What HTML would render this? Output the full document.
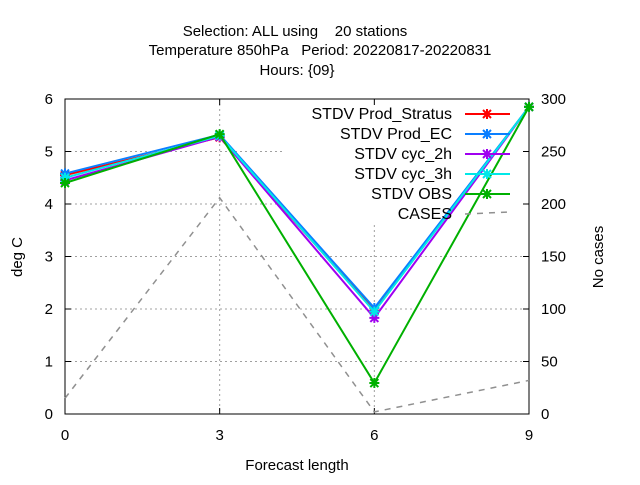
<!DOCTYPE html>
<html><head><meta charset="utf-8"><style>
body{margin:0;background:#fff}
svg{font-family:"Liberation Sans",sans-serif;font-size:15px}
text{white-space:pre}
</style></head><body>
<svg id="c" width="640" height="480" viewBox="0 0 640 480" xml:space="preserve">
<text x="295" y="36" text-anchor="middle">Selection: ALL using    20 stations</text>
<text x="320" y="55" text-anchor="middle">Temperature 850hPa   Period: 20220817-20220831</text>
<text x="297" y="75" text-anchor="middle">Hours: {09}</text>
<text x="297" y="470" text-anchor="middle">Forecast length</text>
<text transform="translate(22,257) rotate(-90)" text-anchor="middle">deg C</text>
<text transform="translate(603,257) rotate(-90)" text-anchor="middle">No cases</text>
<g id="grid"></g><g id="axes"></g><g id="series"></g><g id="legend"></g>
</svg>
<script>
const xCats=[0,3,6,9];
const yTicks=[0,1,2,3,4,5,6];
const y2Ticks=[0,50,100,150,200,250,300];
const names=["STDV Prod_Stratus","STDV Prod_EC","STDV cyc_2h","STDV cyc_3h","STDV OBS"];
const colors=["#ff0000","#0a7fff","#a000f0","#00e8e8","#00b000"];
const sStratus=[4.55,5.27,1.97,5.85];
const sEC=[4.58,5.32,2.02,5.85];
const sCyc2h=[4.45,5.28,1.83,5.85];
const sCyc3h=[4.5,5.3,1.95,5.85];
const sObs=[4.4,5.33,0.59,5.85];
const cases=[15,206,2,32];
const series=[sStratus,sEC,sCyc2h,sCyc3h,sObs];
const L=65,R=529,T=99,B=414;
const X=v=>L+(v-0)/9*(R-L);
const Y=v=>B-v/6*(B-T);
const Y2=v=>B-v/300*(B-T);
const NS="http://www.w3.org/2000/svg";
function mk(t,a,p){const e=document.createElementNS(NS,t);for(const k in a)e.setAttribute(k,a[k]);p.appendChild(e);return e;}
const g=document.getElementById('grid'),ax=document.getElementById('axes'),se=document.getElementById('series'),lg=document.getElementById('legend');
yTicks.slice(1,-1).forEach(v=>{
 const x2=(Y(v)<225)?285:R;
 const l=mk('line',{x1:L,x2:x2,y1:Y(v),y2:Y(v),stroke:'#a0a0a0','stroke-dasharray':'2,3'},g);
 
 
});
xCats.slice(1,-1).forEach(v=>{
 const y1=(X(v)>285)?225:T;
 const l=mk('line',{x1:X(v),x2:X(v),y1:y1,y2:B,stroke:'#a0a0a0','stroke-dasharray':'2,3'},g);
 
 
});
const fr=mk('rect',{x:L,y:T,width:R-L,height:B-T,fill:'none',stroke:'#000'},ax);


yTicks.forEach(v=>{
 mk('line',{x1:L,x2:L+6,y1:Y(v),y2:Y(v),stroke:'#000'},ax);
 const t=mk('text',{x:L-12,y:Y(v)+5,'text-anchor':'end'},ax);t.textContent=v;
 
 
});
y2Ticks.forEach(v=>{
 mk('line',{x1:R-6,x2:R,y1:Y2(v),y2:Y2(v),stroke:'#000'},ax);
 const t=mk('text',{x:R+12,y:Y2(v)+5},ax);t.textContent=v;
 
 
});
xCats.forEach(v=>{
 mk('line',{x1:X(v),x2:X(v),y1:B,y2:B-6,stroke:'#000'},ax);
 mk('line',{x1:X(v),x2:X(v),y1:T,y2:T+6,stroke:'#000'},ax);
 const t=mk('text',{x:X(v),y:B+26,'text-anchor':'middle'},ax);t.textContent=v;
 
 
});
function star(x,y,c,p){
 const d=`M${x-4},${y-4}L${x+4},${y+4}M${x-4},${y+4}L${x+4},${y-4}M${x-5},${y}L${x+5},${y}M${x},${y-5}L${x},${y+5}`;
 const s=mk('path',{d:d,stroke:c,'stroke-width':2},p);
 
 
}
const cp=mk('polyline',{points:xCats.map((v,i)=>X(v)+','+Y2(cases[i])).join(' '),fill:'none',stroke:'#909090','stroke-width':1.5,'stroke-dasharray':'6,6'},se);


series.forEach((s,k)=>{
 const p=mk('polyline',{points:xCats.map((v,i)=>X(v)+','+Y(s[i])).join(' '),fill:'none',stroke:colors[k],'stroke-width':2},se);
 
 
 xCats.forEach((v,i)=>star(X(v),Y(s[i]),colors[k],se));
});
names.forEach((n,k)=>{
 const y=114+k*20;
 const t=mk('text',{x:452,y:y+5,'text-anchor':'end','font-size':'16px'},lg);t.textContent=n;
 
 
 mk('line',{x1:465,x2:510,y1:y,y2:y,stroke:colors[k],'stroke-width':2},lg);
 star(487,y,colors[k],lg);
});
const ct=mk('text',{x:452,y:219,'text-anchor':'end','font-size':'16px'},lg);ct.textContent='CASES';


mk('line',{x1:465,x2:510,y1:214,y2:212,stroke:'#909090','stroke-width':1.5,'stroke-dasharray':'6,6'},lg);
</script>
</body></html>
